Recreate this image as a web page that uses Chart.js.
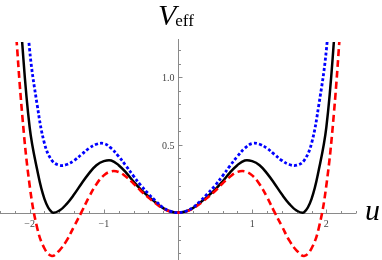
<!DOCTYPE html>
<html>
<head>
<meta charset="utf-8">
<script src="https://cdn.jsdelivr.net/npm/chart.js@4"></script>
<style>
  html, body { margin: 0; padding: 0; background: #fff; }
  canvas { display: block; }
</style>
</head>
<body>
<canvas id="veff" width="382" height="260"></canvas>
<script>
// u values and the three potential curves
const uVals = [-2.2, -2.1, -2.0, -1.9, -1.8, -1.7, -1.6, -1.5, -1.4, -1.3, -1.2, -1.1, -1.0,
  -0.9, -0.8, -0.7, -0.6, -0.5, -0.4, -0.3, -0.2, -0.1, 0,
  0.1, 0.2, 0.3, 0.4, 0.5, 0.6, 0.7, 0.8, 0.9, 1.0, 1.1, 1.2, 1.3, 1.4, 1.5, 1.6, 1.7,
  1.8, 1.9, 2.0, 2.1, 2.2];

const blackVals = [2.1, 1.25, 0.63, 0.32, 0.1, 0.003, 0.015, 0.065, 0.135, 0.215, 0.29, 0.35, 0.38,
  0.385, 0.35, 0.295, 0.23, 0.17, 0.12, 0.075, 0.033, 0.008, 0,
  0.008, 0.033, 0.075, 0.12, 0.17, 0.23, 0.295, 0.35, 0.385, 0.38, 0.35, 0.29, 0.215, 0.135, 0.065, 0.015, 0.003,
  0.1, 0.32, 0.63, 1.25, 2.1];

const blueVals = [2.9, 1.9, 1.2, 0.8, 0.51, 0.385, 0.35, 0.355, 0.385, 0.43, 0.475, 0.505, 0.51,
  0.475, 0.415, 0.345, 0.27, 0.2, 0.14, 0.085, 0.037, 0.009, 0,
  0.009, 0.037, 0.085, 0.14, 0.2, 0.27, 0.345, 0.415, 0.475, 0.51, 0.505, 0.475, 0.43, 0.385, 0.355, 0.35, 0.385,
  0.51, 0.8, 1.2, 1.9, 2.9];

const redVals = [1.45, 0.72, 0.2, -0.11, -0.265, -0.32, -0.28, -0.205, -0.1, 0.005, 0.115, 0.21, 0.275,
  0.305, 0.3, 0.265, 0.215, 0.16, 0.112, 0.068, 0.03, 0.007, 0,
  0.007, 0.03, 0.068, 0.112, 0.16, 0.215, 0.265, 0.3, 0.305, 0.275, 0.21, 0.115, 0.005, -0.1, -0.205, -0.28, -0.32,
  -0.265, -0.11, 0.2, 0.72, 1.45];

const xTickVals = [-2, -1, 1, 2];
const xTickText = ["\u22122", "\u22121", "1", "2"];
const yTickVals = [0.5, 1.0];
const yTickText = ["0.5", "1.0"];

const toPoints = vals => uVals.map((u, i) => ({ x: u, y: vals[i] }));

// draws Mathematica-style axes through the origin, ticks pointing inward
const axesPlugin = {
  id: "axes",
  beforeDatasetsDraw(chart) {
    const { ctx, scales: { x, y } } = chart;
    const x0 = Math.round(x.getPixelForValue(0)) + 0.5;
    const y0 = Math.round(y.getPixelForValue(0)) + 0.5;
    ctx.save();
    ctx.strokeStyle = "#8a8a8a";
    ctx.lineWidth = 1;
    ctx.beginPath();
    ctx.moveTo(x.left, y0);
    ctx.lineTo(x.right, y0);
    ctx.moveTo(x0, y.top - 3);
    ctx.lineTo(x0, y.bottom);
    for (let i = -12; i <= 12; i++) {
      if (i === 0) continue;
      const px = Math.round(x.getPixelForValue(i / 5)) + 0.5;
      const len = i % 5 === 0 ? 4 : 2.5;
      ctx.moveTo(px, y0);
      ctx.lineTo(px, y0 - len);
    }
    for (let j = -3; j <= 12; j++) {
      if (j === 0) continue;
      const py = Math.round(y.getPixelForValue(j / 10)) + 0.5;
      const len = j % 5 === 0 ? 4 : 2.5;
      ctx.moveTo(x0, py);
      ctx.lineTo(x0 + len, py);
    }
    ctx.stroke();

    ctx.fillStyle = "#444";
    ctx.font = '10px "Liberation Serif"';
    ctx.textAlign = "center";
    ctx.textBaseline = "top";
    xTickVals.forEach((v, i) => {
      ctx.fillText(xTickText[i], x.getPixelForValue(v), y0 + 6);
    });
    ctx.textAlign = "right";
    ctx.textBaseline = "middle";
    yTickVals.forEach((v, i) => {
      ctx.fillText(yTickText[i], x0 - 4, y.getPixelForValue(v) + 1.5);
    });
    ctx.restore();
  },
  afterDraw(chart) {
    const { ctx } = chart;
    ctx.save();
    ctx.fillStyle = "#000";
    ctx.textAlign = "left";
    ctx.textBaseline = "alphabetic";
    ctx.font = 'italic 30px "Liberation Serif"';
    ctx.fillText("V", 158, 25);
    const vw = ctx.measureText("V").width;
    ctx.font = '17px "Liberation Serif"';
    ctx.fillText("eff", 158 + vw - 1, 26);
    ctx.font = 'italic 30px "Liberation Serif"';
    ctx.fillText("u", 365, 220);
    ctx.restore();
  }
};

new Chart(document.getElementById("veff"), {
  type: "line",
  data: {
    datasets: [
      {
        label: "blue",
        data: toPoints(blueVals),
        borderColor: "#0000ff",
        borderWidth: 2.8,
        borderDash: [3, 2.2]
      },
      {
        label: "red",
        data: toPoints(redVals),
        borderColor: "#ff0000",
        borderWidth: 2.6,
        borderDash: [7, 4]
      },
      {
        label: "black",
        data: toPoints(blackVals),
        borderColor: "#000000",
        borderWidth: 2.5
      }
    ]
  },
  options: {
    responsive: false,
    animation: false,
    devicePixelRatio: 1,
    layout: { padding: { left: 0, right: 26, top: 42, bottom: 0 } },
    plugins: { legend: { display: false }, tooltip: { enabled: false } },
    elements: {
      point: { radius: 0 },
      line: { tension: 0.4, fill: false }
    },
    scales: {
      x: { type: "linear", min: -2.4, max: 2.4, display: false },
      y: { type: "linear", min: -0.35, max: 1.26, display: false }
    }
  },
  plugins: [axesPlugin]
});
</script>
</body>
</html>
